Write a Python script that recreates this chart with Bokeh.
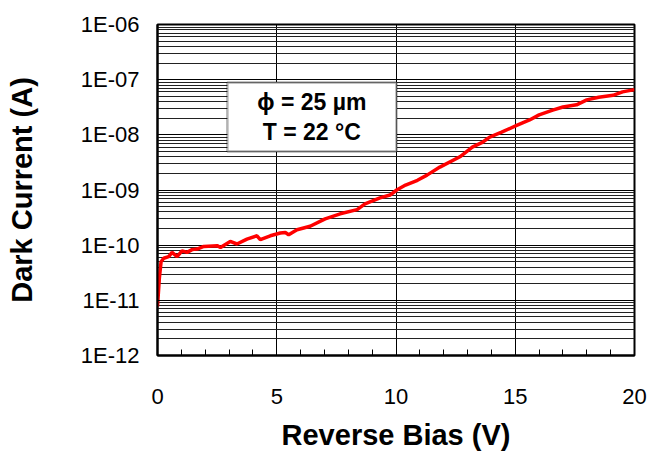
from bokeh.plotting import figure
from bokeh.models import (FixedTicker, CustomJSTickFormatter, BoxAnnotation, Label,
                          Range1d, ColumnDataSource)
from bokeh.embed import file_html
from bokeh.resources import INLINE

# ---- data ----
bias_v = [0.0, 0.08, 0.15, 0.26, 0.47, 0.61, 0.82, 1.03, 1.24, 1.45, 1.66, 1.94,
          2.5, 2.64, 3.05, 3.33, 3.75, 4.17, 4.31, 4.73, 5.15, 5.36, 5.5, 5.85,
          6.4, 7.03, 7.66, 8.37, 8.7, 9.33, 9.75, 10.03, 10.4, 10.9, 11.3, 11.84,
          12.68, 13.2, 13.64, 13.93, 14.43, 15.06, 15.6, 16.0, 16.57, 17.0, 17.57,
          18.0, 18.5, 19.1, 19.5, 20.0]
dark_current_a = [7.8e-12, 2.6e-11, 5.0e-11, 5.8e-11, 6.2e-11, 7.4e-11, 6.2e-11, 7.9e-11,
                  7.4e-11, 8.3e-11, 8.5e-11, 9.5e-11, 9.8e-11, 9.1e-11, 1.17e-10, 1.05e-10,
                  1.29e-10, 1.48e-10, 1.26e-10, 1.48e-10, 1.66e-10, 1.70e-10, 1.55e-10, 1.9e-10,
                  2.2e-10, 3.0e-10, 3.7e-10, 4.4e-10, 5.6e-10, 7.2e-10, 8.1e-10, 1.0e-9,
                  1.23e-9, 1.5e-9, 1.86e-9, 2.6e-9, 4.0e-9, 6.0e-9, 7.4e-9, 9.1e-9,
                  1.12e-8, 1.48e-8, 1.86e-8, 2.3e-8, 2.8e-8, 3.2e-8, 3.5e-8, 4.3e-8,
                  4.8e-8, 5.2e-8, 6.0e-8, 6.6e-8]

y_ticks = [1e-12, 1e-11, 1e-10, 1e-09, 1e-08, 1e-07, 1e-06]
y_tick_labels = ["1E-12", "1E-11", "1E-10", "1E-09", "1E-08", "1E-07", "1E-06"]
x_ticks = [0, 5, 10, 15, 20]
x_minor_ticks = list(range(0, 21))
legend_lines = ["\u03d5 = 25 \u00b5m", "T = 22 \u00b0C"]

FONT = "Liberation Sans"

y_minor = [m * d for d in y_ticks[:-1] for m in range(2, 10)]

p = figure(width=647, height=453, y_axis_type="log", output_backend="svg",
           toolbar_location=None,
           x_range=Range1d(0, 20), y_range=Range1d(1e-12, 1e-6),
           min_border_left=157, min_border_right=13, min_border_top=24,
           min_border_bottom=97)

p.line(x="x", y="y", source=ColumnDataSource(dict(x=bias_v, y=dark_current_a)),
       line_color="#ff0000", line_width=3.5)

# axes / ticks
p.xaxis.ticker = FixedTicker(ticks=x_ticks, minor_ticks=x_minor_ticks)
p.yaxis.ticker = FixedTicker(ticks=y_ticks, minor_ticks=y_minor)
p.yaxis.formatter = CustomJSTickFormatter(
    args=dict(tv=y_ticks, tl=y_tick_labels),
    code="""
    let best = 0, bd = 1e9;
    for (let i = 0; i < tv.length; i++) {
      const d = Math.abs(Math.log10(tv[i]) - Math.log10(tick));
      if (d < bd) { bd = d; best = i; }
    }
    return tl[best];
    """)

for ax in (p.xaxis, p.yaxis):
    ax.axis_line_color = "black"
    ax.axis_line_width = 2
    ax.major_tick_line_color = "black"
    ax.minor_tick_line_color = "black"
    ax.major_tick_out = 0
    ax.minor_tick_out = 0
    ax.major_label_text_font = FONT
    ax.major_label_text_font_size = "22px"
    ax.major_label_text_color = "black"
    ax.axis_label_text_font = FONT
    ax.axis_label_text_font_style = "bold"
    ax.axis_label_text_font_size = "29px"
    ax.axis_label_text_color = "black"

p.xaxis.major_tick_in = 6
p.xaxis.minor_tick_in = 6
p.yaxis.major_tick_in = 6
p.yaxis.minor_tick_in = 0
p.xaxis.major_label_standoff = 33
p.yaxis.major_label_standoff = 18
p.xaxis.axis_label = "Reverse Bias (V)"
p.yaxis.axis_label = "Dark Current (A)"
p.xaxis.axis_label_standoff = 12
p.yaxis.axis_label_standoff = 40

# grid
p.xgrid.grid_line_color = "black"
p.xgrid.grid_line_width = 1
p.ygrid.grid_line_color = "black"
p.ygrid.grid_line_width = 1
p.ygrid.minor_grid_line_color = "#222222"
p.ygrid.minor_grid_line_width = 1

p.outline_line_color = "black"
p.outline_line_width = 2
p.background_fill_color = "white"
p.border_fill_color = "white"

# annotation box
box = BoxAnnotation(left=2.93, right=10.02, top=10 ** -7.05, bottom=10 ** -8.30,
                    fill_color="white", fill_alpha=1.0, line_color="black", line_width=2.5)
p.add_layout(box)
for txt, ly in zip(legend_lines, [10 ** -7.40, 10 ** -7.95]):
    p.add_layout(Label(x=6.47, y=ly, text=txt, text_align="center", text_baseline="middle",
                       text_font=FONT, text_font_style="bold", text_font_size="23px",
                       text_color="black"))

open("out.html", "w").write(file_html(p, INLINE))
